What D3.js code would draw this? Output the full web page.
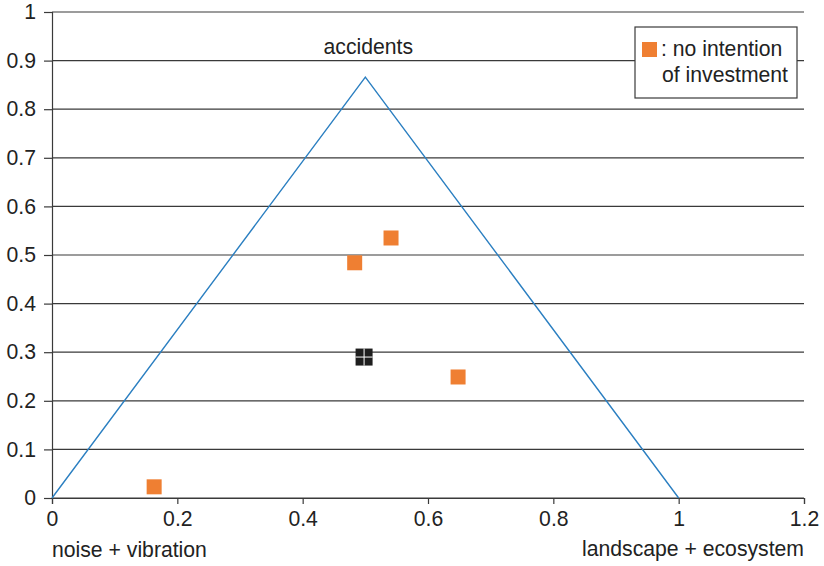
<!DOCTYPE html>
<html>
<head>
<meta charset="utf-8">
<script src="https://cdn.jsdelivr.net/npm/d3@7"></script>
<style>
  html, body { margin: 0; padding: 0; background: #fff; }
  svg text { font-family: "Liberation Sans", Arial, Helvetica, sans-serif; fill: #222; }
</style>
</head>
<body>
<svg id="chart" width="824" height="566"></svg>
<script>
// Ternary-style triangle outline (x, y)
const triangle = [[0, 0], [0.5, 0.866], [1, 0]];
// Survey responses with no intention of investment
const noInvestX = [0.163, 0.483, 0.541, 0.648];
const noInvestY = [0.023, 0.484, 0.535, 0.249];
// Centre of the distribution
const centreX = [0.498];
const centreY = [0.29];

const xTicks = [0, 0.2, 0.4, 0.6, 0.8, 1, 1.2];
const yTicks = [0, 0.1, 0.2, 0.3, 0.4, 0.5, 0.6, 0.7, 0.8, 0.9, 1];

const apexLabel = "accidents";
const xLeftLabel = "noise + vibration";
const xRightLabel = "landscape + ecosystem";
const legendLines = [": no intention", "of investment"];

const margin = { left: 52, right: 20, top: 12, bottom: 68 };
const W = 824, H = 566;
const svg = d3.select("#chart");

const x = d3.scaleLinear().domain([0, 1.2]).range([margin.left, W - margin.right]);
const y = d3.scaleLinear().domain([0, 1]).range([H - margin.bottom, margin.top]);

const fontSize = 21.2;
const gridColor = "#3a3a3a";

// Horizontal gridlines
svg.append("g")
  .selectAll("line")
  .data(yTicks)
  .join("line")
  .attr("x1", x(0)).attr("x2", x(1.2))
  .attr("y1", d => y(d)).attr("y2", d => y(d))
  .attr("stroke", gridColor).attr("stroke-width", 1.2);

// Y axis
const yAxis = svg.append("g")
  .attr("transform", `translate(${x(0)},0)`)
  .call(d3.axisLeft(y).tickValues(yTicks).tickSize(8).tickPadding(8).tickFormat(d3.format("")));
yAxis.select(".domain").attr("stroke", gridColor).attr("stroke-width", 1.2);
yAxis.selectAll(".tick line").attr("stroke", gridColor).attr("stroke-width", 1.2);
yAxis.selectAll(".tick text").attr("font-size", fontSize).attr("font-family", null).attr("fill", "#222");

// X axis
const xAxis = svg.append("g")
  .attr("transform", `translate(0,${y(0)})`)
  .call(d3.axisBottom(x).tickValues(xTicks).tickSize(6).tickPadding(7).tickFormat(d3.format("")));
xAxis.select(".domain").attr("stroke", gridColor).attr("stroke-width", 1.2);
xAxis.selectAll(".tick line").attr("stroke", gridColor).attr("stroke-width", 1.2);
xAxis.selectAll(".tick text").attr("font-size", fontSize).attr("font-family", null).attr("fill", "#222");

// Triangle outline
svg.append("path")
  .datum(triangle)
  .attr("d", d3.line().x(d => x(d[0])).y(d => y(d[1])))
  .attr("fill", "none")
  .attr("stroke", "#2b7fc1")
  .attr("stroke-width", 1.4);

// Apex label
svg.append("text")
  .attr("x", x(triangle[1][0]) + 3)
  .attr("y", y(triangle[1][1]) - 23)
  .attr("text-anchor", "middle")
  .attr("font-size", fontSize)
  .text(apexLabel);

// Orange squares
const sq = 15;
svg.append("g")
  .selectAll("rect")
  .data(noInvestX.map((d, i) => [d, noInvestY[i]]))
  .join("rect")
  .attr("x", d => x(d[0]) - sq / 2)
  .attr("y", d => y(d[1]) - sq / 2)
  .attr("width", sq).attr("height", sq)
  .attr("fill", "#ef7f32");

// Centre marker: dark square split into four
const cs = 17;
const centre = svg.append("g");
centreX.forEach((cx, i) => {
  const px = x(cx), py = y(centreY[i]);
  centre.append("rect")
    .attr("x", px - cs / 2).attr("y", py - cs / 2)
    .attr("width", cs).attr("height", cs)
    .attr("fill", "#1e1e1e");
  centre.append("line")
    .attr("x1", px).attr("x2", px)
    .attr("y1", py - cs / 2).attr("y2", py + cs / 2)
    .attr("stroke", "#fff").attr("stroke-width", 1);
  centre.append("line")
    .attr("x1", px - cs / 2).attr("x2", px + cs / 2)
    .attr("y1", py).attr("y2", py)
    .attr("stroke", "#fff").attr("stroke-width", 1);
});

// Axis end labels
svg.append("text")
  .attr("x", x(0)).attr("y", 557)
  .attr("font-size", fontSize)
  .text(xLeftLabel);
svg.append("text")
  .attr("x", x(1.2)).attr("y", 556)
  .attr("text-anchor", "end")
  .attr("font-size", fontSize)
  .text(xRightLabel);

// Legend
const legend = svg.append("g");
legend.append("rect")
  .attr("x", 635).attr("y", 27)
  .attr("width", 162).attr("height", 71)
  .attr("fill", "#fff")
  .attr("stroke", gridColor).attr("stroke-width", 1.2);
legend.append("rect")
  .attr("x", 642).attr("y", 42)
  .attr("width", 15).attr("height", 15)
  .attr("fill", "#ef7f32");
legend.append("text")
  .attr("x", 661).attr("y", 56)
  .attr("font-size", fontSize)
  .text(legendLines[0]);
legend.append("text")
  .attr("x", 662).attr("y", 82)
  .attr("font-size", fontSize)
  .text(legendLines[1]);
</script>
</body>
</html>
